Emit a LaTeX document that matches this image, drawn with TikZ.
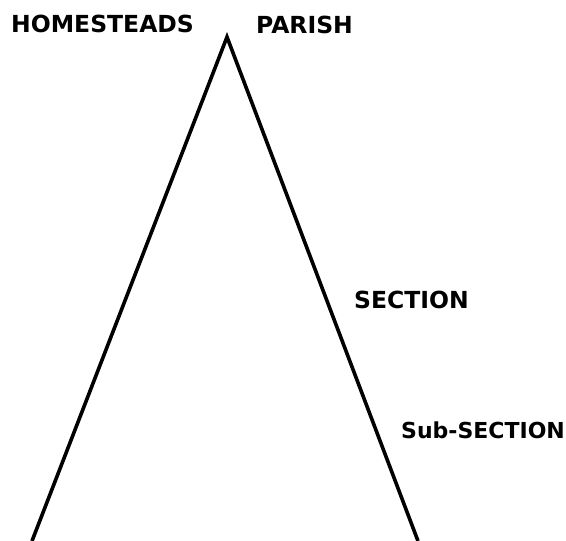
\documentclass[tikz,border=0pt]{standalone}
\usepackage{fontspec}
\setmainfont{DejaVu Sans}
\usetikzlibrary{calc}

\tikzset{
  lbl/.style={font=\bfseries\fontsize{23.5}{24}\selectfont,inner sep=0pt,anchor=base west},
  smalllbl/.style={lbl,font=\bfseries\fontsize{22}{22}\selectfont}
}

\begin{document}
\begin{tikzpicture}[x=1pt,y=-1pt]
\useasboundingbox (0,0) rectangle (566,541);
\coordinate (Apex) at (227,37);
\coordinate (L1) at (32,541);
\coordinate (R1) at (418,541);
\draw[black,line width=3.6pt,line join=miter] (L1)--(Apex)--(R1);
\node[lbl] (homesteads) at (11,32) {HOMESTEADS};
\node[lbl] (parish) at (256,33) {PARISH};
\node[lbl] (section) at (354,308) {SECTION};
\node[smalllbl] (subsection) at (401,438) {Sub-SECTION};
\end{tikzpicture}
\end{document}
